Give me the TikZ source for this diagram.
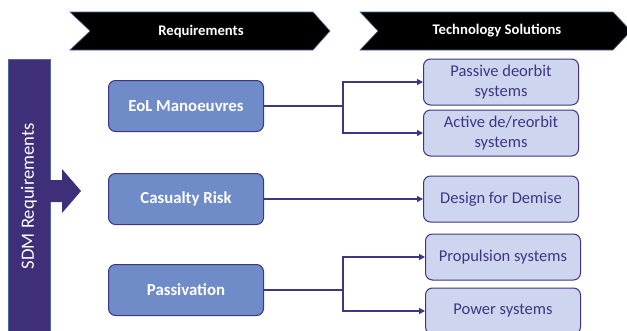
\documentclass[tikz,border=0pt]{standalone}
\usepackage{fontspec}
\setmainfont{Carlito}
\usetikzlibrary{arrows.meta}
\definecolor{darkp}{HTML}{3E2F78}
\definecolor{lineP}{HTML}{3F3585}
\definecolor{midB}{HTML}{6F8BC8}
\definecolor{lightB}{HTML}{CDD6EE}
\definecolor{edgeB}{HTML}{4F6A9A}
\tikzset{
  reqbox/.style={draw=lineP, line width=1pt, fill=midB, rounded corners=7pt,
    minimum width=155pt, minimum height=51pt, text=white, font=\fontsize{16.8}{19}\selectfont\bfseries, inner sep=0pt},
  solbox/.style={draw=lineP, line width=1pt, fill=lightB, rounded corners=7pt,
    minimum width=155pt, minimum height=46pt, text=lineP, font=\fontsize{16.5}{19.5}\selectfont, align=center, inner sep=0pt},
  conn/.style={draw=lineP, line width=1.2pt},
  arr/.style={conn, -{Triangle[length=6pt,width=6pt]}},
  hdr/.style={text=white, font=\fontsize{14.7}{17}\selectfont\bfseries, inner sep=0pt}
}
\begin{document}
\begin{tikzpicture}[x=1pt,y=-1pt]
\useasboundingbox (0,0) rectangle (627,330);
% header chevrons
\fill[black, draw=edgeB, line width=0.6pt] (70,12) -- (313,12) -- (330,31) -- (313,50) -- (70,50) -- (90,31) -- cycle;
\fill[black, draw=edgeB, line width=0.6pt] (360,12) -- (613,12) -- (631,31) -- (613,50) -- (360,50) -- (378,31) -- cycle;
\node[hdr] (h1) at (201,31) {Requirements};
\node[hdr] (h2) at (497,31) {Technology Solutions};
% SDM bar
\fill[darkp, draw=edgeB, line width=0.6pt] (8,59) rectangle (50,336);
\fill[darkp] (49,180) -- (62,180) -- (62,169) -- (81,191) -- (62,213) -- (62,202) -- (49,202) -- cycle;
\node[rotate=90, text=white, font=\fontsize{18.7}{21}\selectfont, inner sep=0pt] (sdm) at (29,196) {SDM Requirements};
% requirement boxes
\node[reqbox] (eol) at (186,106) {EoL Manoeuvres};
\node[reqbox] (cas) at (186,199) {Casualty Risk};
\node[reqbox] (pas) at (186,290) {Passivation};
% solution boxes
\node[solbox] (pdo) at (501,82) {Passive deorbit\\systems};
\node[solbox] (ado) at (501,133) {Active de/reorbit\\systems};
\node[solbox] (dfd) at (501,199) {Design for Demise};
\node[solbox] (prop) at (503,257) {Propulsion systems};
\node[solbox] (pow) at (503,311) {Power systems};
% connectors
\coordinate (j1) at (343,106);
\coordinate (j2) at (343,290);
\draw[conn] (eol.east) -- (j1);
\draw[arr] (j1) |- (pdo.west);
\draw[arr] (j1) |- (ado.west);
\draw[arr] (cas.east) -- (dfd.west);
\draw[conn] (pas.east) -- (j2);
\draw[arr] (j2) |- (prop.west);
\draw[arr] (j2) |- (pow.west);
\end{tikzpicture}
\end{document}
